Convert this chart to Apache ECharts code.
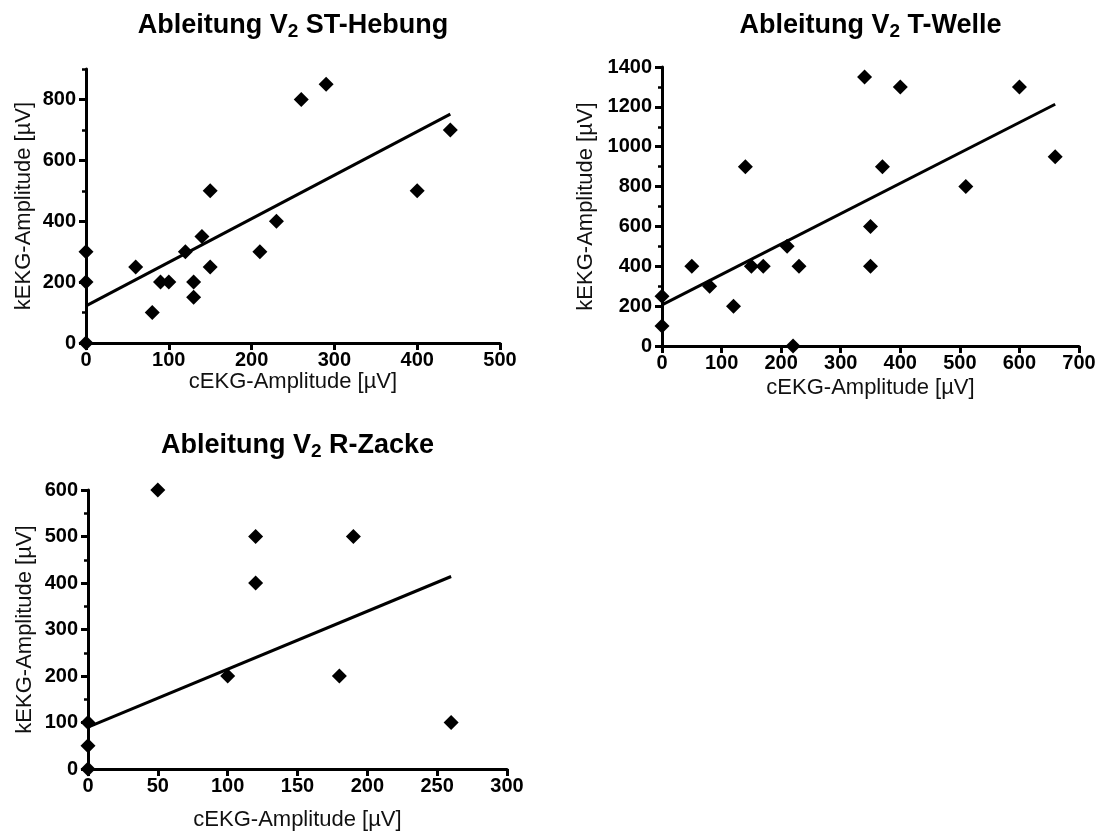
<!DOCTYPE html>
<html><head><meta charset="utf-8">
<script src="https://cdn.jsdelivr.net/npm/echarts@6/dist/echarts.min.js"></script>
<style>html,body{margin:0;padding:0;background:#fff}#c{width:1108px;height:836px}</style>
</head><body><div id="c"></div>
<script>
// ---- data ----
const titles = ['Ableitung V{s|2} ST-Hebung', 'Ableitung V{s|2} T-Welle', 'Ableitung V{s|2} R-Zacke'];
const xName = 'cEKG-Amplitude [µV]';
const yName = 'kEKG-Amplitude [µV]';

// Ableitung V2 ST-Hebung
const stX = [0, 0, 0, 60, 80, 90, 100, 120, 130, 130, 140, 150, 150, 210, 230, 260, 290, 400, 440];
const stY = [0, 200, 300, 250, 100, 200, 200, 300, 200, 150, 350, 500, 250, 300, 400, 800, 850, 500, 700];
const stFitX = [0, 440];
const stFitY = [122, 752];
const stXTicks = [0, 100, 200, 300, 400, 500];
const stYTicks = [0, 200, 400, 600, 800];

// Ableitung V2 T-Welle
const twX = [0, 0, 50, 80, 120, 140, 150, 170, 210, 220, 230, 340, 350, 350, 370, 400, 510, 600, 660];
const twY = [250, 100, 400, 300, 200, 900, 400, 400, 500, 0, 400, 1350, 600, 400, 900, 1300, 800, 1300, 950];
const twFitX = [0, 660];
const twFitY = [206, 1213];
const twXTicks = [0, 100, 200, 300, 400, 500, 600, 700];
const twYTicks = [0, 200, 400, 600, 800, 1000, 1200, 1400];

// Ableitung V2 R-Zacke
const rzX = [0, 0, 0, 50, 100, 120, 120, 180, 190, 260];
const rzY = [0, 50, 100, 600, 200, 500, 400, 200, 500, 100];
const rzFitX = [0, 260];
const rzFitY = [90, 414];
const rzXTicks = [0, 50, 100, 150, 200, 250, 300];
const rzYTicks = [0, 100, 200, 300, 400, 500, 600];

// ---- layout ----
const FONT = "'Liberation Sans', Arial, Helvetica, sans-serif";
const panels = [
  {grid: {left: 86, top: 69, width: 414, height: 274}, xs: stX, ys: stY, fx: stFitX, fy: stFitY,
   xt: stXTicks, yt: stYTicks, xMax: 500, xInt: 100, yMax: 900, yMaj: 200, yMin: 100, gx: 25, gy: 51, title: 0},
  {grid: {left: 662, top: 67, width: 417, height: 279}, xs: twX, ys: twY, fx: twFitX, fy: twFitY,
   xt: twXTicks, yt: twYTicks, xMax: 700, xInt: 100, yMax: 1400, yMaj: 200, yMin: 100, gx: 31, gy: 65, title: 1},
  {grid: {left: 88, top: 490, width: 419, height: 279}, xs: rzX, ys: rzY, fx: rzFitX, fy: rzFitY,
   xt: rzXTicks, yt: rzYTicks, xMax: 300, xInt: 50, yMax: 600, yMaj: 100, yMin: 50, gx: 40, gy: 52, title: 2}
];

const grids = [], xAxes = [], yAxes = [], series = [], graphics = [];
const axisLine = {show: true, onZero: false, lineStyle: {color: '#000', width: 3}};
const plain = v => String(v);
panels.forEach((p, i) => {
  grids.push(p.grid);
  xAxes.push({
    type: 'value', gridIndex: i, min: 0, max: p.xMax, interval: p.xInt,
    axisLine: axisLine,
    axisTick: {show: true, length: 7, lineStyle: {color: '#000', width: 3}, customValues: p.xt},
    axisLabel: {color: '#000', fontSize: 20, fontWeight: 'bold', fontFamily: FONT, margin: 7, customValues: p.xt, formatter: plain},
    splitLine: {show: false},
    name: xName, nameLocation: 'middle', nameGap: p.gx,
    nameTextStyle: {color: '#111', fontSize: 22, fontFamily: FONT}
  });
  yAxes.push({
    type: 'value', gridIndex: i, min: 0, max: p.yMax, interval: p.yMaj,
    axisLine: axisLine,
    axisTick: {show: true, length: 7, lineStyle: {color: '#000', width: 3}, customValues: p.yt},
    axisLabel: {color: '#000', fontSize: 20, fontWeight: 'bold', fontFamily: FONT, margin: 10, customValues: p.yt, formatter: plain},
    splitLine: {show: false},
    name: yName, nameLocation: 'middle', nameGap: p.gy,
    nameTextStyle: {color: '#111', fontSize: 22, fontFamily: FONT}
  });
  yAxes.push({
    type: 'value', gridIndex: i, min: 0, max: p.yMax, interval: p.yMin, position: 'left',
    axisLine: {show: false},
    axisTick: {show: true, length: 4, lineStyle: {color: '#000', width: 2.5}},
    axisLabel: {show: false}, splitLine: {show: false}
  });
  series.push({
    type: 'line', xAxisIndex: i, yAxisIndex: 2 * i,
    data: p.fx.map((x, k) => [x, p.fy[k]]),
    symbol: 'none', lineStyle: {color: '#000', width: 3}, silent: true, z: 3
  });
  series.push({
    type: 'scatter', xAxisIndex: i, yAxisIndex: 2 * i,
    data: p.xs.map((x, k) => [x, p.ys[k]]),
    symbol: 'diamond', symbolSize: 15, itemStyle: {color: '#000', opacity: 1}, clip: false, z: 4
  });
  graphics.push({
    type: 'text', x: p.grid.left + p.grid.width / 2, y: i < 2 ? 11 : 431,
    style: {
      text: titles[p.title], align: 'center', verticalAlign: 'top',
      fontSize: 27, fontWeight: 'bold', fontFamily: FONT, fill: '#000', lineHeight: 30,
      rich: {s: {fontSize: 19, fontWeight: 'bold', fontFamily: FONT, fill: '#000', verticalAlign: 'bottom', lineHeight: 14}}
    }
  });
});

const chart = echarts.init(document.getElementById('c'), null, {renderer: 'canvas'});
chart.setOption({
  animation: false, backgroundColor: '#fff',
  grid: grids, xAxis: xAxes, yAxis: yAxes, series: series, graphic: graphics
});
</script></body></html>
